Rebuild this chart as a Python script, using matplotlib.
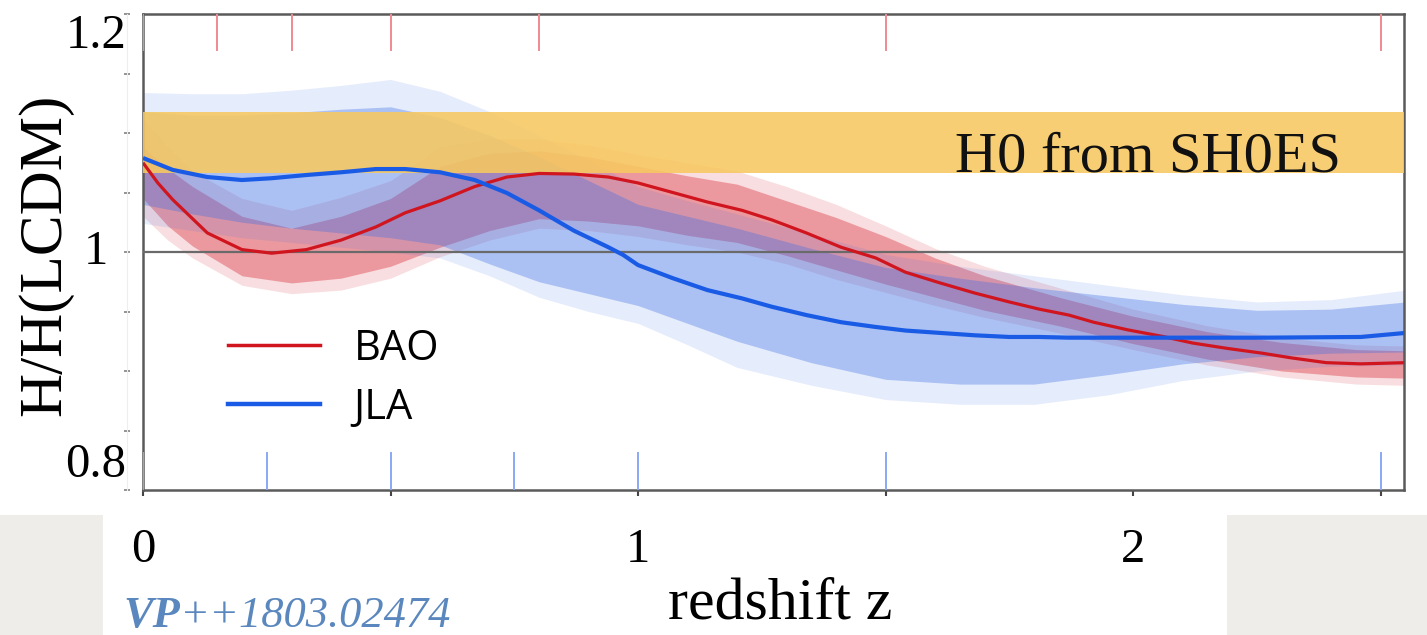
import matplotlib
matplotlib.use("Agg")
import matplotlib.pyplot as plt
from matplotlib.lines import Line2D
from matplotlib.patches import Rectangle

# ---------------- data ----------------
z_red = [0, 0.03, 0.06, 0.13, 0.2, 0.26, 0.33, 0.4, 0.47, 0.53, 0.6, 0.67, 0.735,
         0.8, 0.87, 0.94, 1.0, 1.07, 1.14, 1.21, 1.27, 1.34, 1.41, 1.48, 1.54, 1.61,
         1.68, 1.75, 1.81, 1.87, 1.92, 1.99, 2.06, 2.12, 2.19, 2.26, 2.32, 2.39, 2.46, 2.55]
h_red = [1.075, 1.058, 1.044, 1.016, 1.002, 0.999, 1.002, 1.010, 1.021, 1.033, 1.043,
         1.055, 1.063, 1.066, 1.0655, 1.063, 1.058, 1.050, 1.042, 1.035, 1.027, 1.016,
         1.004, 0.995, 0.983, 0.974, 0.9655, 0.958, 0.952, 0.947, 0.941, 0.9345, 0.929,
         0.9235, 0.919, 0.915, 0.911, 0.907, 0.906, 0.907]

z_blue = [0, 0.06, 0.13, 0.2, 0.26, 0.33, 0.4, 0.47, 0.53, 0.6, 0.67, 0.735, 0.8, 0.87,
          0.94, 0.97, 1.0, 1.07, 1.14, 1.21, 1.27, 1.34, 1.41, 1.48, 1.54, 1.61, 1.68,
          1.75, 1.81, 1.87, 2.06, 2.26, 2.46, 2.55]
h_blue = [1.079, 1.069, 1.063, 1.0605, 1.062, 1.0647, 1.067, 1.0697, 1.0697, 1.067,
          1.0605, 1.0496, 1.035, 1.018, 1.004, 0.9975, 0.989, 0.978, 0.968, 0.961, 0.954,
          0.947, 0.941, 0.937, 0.934, 0.932, 0.930, 0.9286, 0.9286, 0.928, 0.928, 0.928,
          0.9286, 0.932]

# sample envelopes (faint outer extent and dense inner region)
z_env_blue = [0, 0.1, 0.2, 0.3, 0.4, 0.5, 0.6, 0.7, 0.8, 0.9, 1.0, 1.1, 1.2, 1.35,
              1.5, 1.65, 1.8, 1.95, 2.1, 2.25, 2.4, 2.55]
blue_hi_outer = [1.134, 1.133, 1.133, 1.136, 1.140, 1.145, 1.135, 1.118, 1.098, 1.077,
                 1.055, 1.043, 1.032, 1.015, 0.998, 0.988, 0.980, 0.972, 0.964, 0.958,
                 0.960, 0.968]
blue_lo_outer = [1.024, 1.018, 1.012, 1.008, 1.004, 1.000, 0.995, 0.980, 0.962, 0.950,
                 0.940, 0.922, 0.903, 0.888, 0.876, 0.872, 0.872, 0.880, 0.892, 0.900,
                 0.904, 0.905]
blue_hi_inner = [1.118, 1.115, 1.115, 1.117, 1.120, 1.122, 1.113, 1.098, 1.080, 1.060,
                 1.040, 1.030, 1.020, 1.003, 0.987, 0.978, 0.970, 0.963, 0.956, 0.951,
                 0.952, 0.958]
blue_lo_inner = [1.040, 1.032, 1.025, 1.020, 1.016, 1.012, 1.006, 0.990, 0.975, 0.965,
                 0.955, 0.940, 0.925, 0.907, 0.893, 0.889, 0.889, 0.897, 0.906, 0.912,
                 0.915, 0.916]

z_env_red = [0, 0.05, 0.1, 0.2, 0.3, 0.4, 0.5, 0.6, 0.7, 0.8, 0.9, 1.0, 1.1, 1.2, 1.3,
             1.4, 1.5, 1.6, 1.7, 1.85, 2.0, 2.15, 2.3, 2.45, 2.55]
red_hi_outer = [1.112, 1.088, 1.068, 1.045, 1.035, 1.046, 1.060, 1.088, 1.095, 1.095,
                1.090, 1.082, 1.075, 1.068, 1.055, 1.040, 1.022, 1.003, 0.988, 0.970,
                0.952, 0.938, 0.928, 0.922, 0.921]
red_lo_outer = [1.030, 1.010, 0.995, 0.972, 0.965, 0.968, 0.978, 0.996, 1.010, 1.020,
                1.018, 1.013, 1.006, 1.000, 0.990, 0.977, 0.966, 0.955, 0.945, 0.932,
                0.918, 0.905, 0.895, 0.889, 0.888]
red_hi_inner = [1.088, 1.070, 1.055, 1.030, 1.020, 1.030, 1.045, 1.072, 1.083, 1.085,
                1.080, 1.072, 1.064, 1.057, 1.043, 1.029, 1.013, 0.995, 0.980, 0.962,
                0.946, 0.933, 0.924, 0.918, 0.917]
red_lo_inner = [1.045, 1.022, 1.005, 0.980, 0.974, 0.978, 0.988, 1.004, 1.018, 1.028,
                1.026, 1.022, 1.014, 1.008, 0.997, 0.985, 0.973, 0.962, 0.951, 0.938,
                0.923, 0.910, 0.900, 0.895, 0.894]

sh0es_band = [1.0667, 1.118]
rug_top_red = [0, 0.15, 0.3, 0.5, 0.8, 1.5, 2.5]
rug_bottom_blue = [0, 0.25, 0.5, 0.75, 1.0, 1.5, 2.5]

xtick_values = [0, 1, 2]
xtick_labels = ["0", "1", "2"]
xminor_values = [0.5, 1.5, 2.5]
ytick_labels = ["0.8", "1", "1.2"]
ytick_text_y = [0.821, 1.0, 1.1815]
yminor_values = [0.8, 0.85, 0.9, 0.95, 1.0, 1.05, 1.1, 1.15, 1.2]

series_names = ["BAO", "JLA"]

# ---------------- styling ----------------
SERIF = "Liberation Serif"
C_RED = "#d0151f"
C_BLUE = "#1a5be6"
C_RED_FILL = "#d9333f"
C_BLUE_FILL = "#3d6fe6"

fig = plt.figure(figsize=(14.27, 6.35), dpi=100)
fig.patch.set_facecolor("white")

# marble-like panels at the bottom corners
fig.add_artist(Rectangle((0, 0), 103 / 1427, 120 / 635, transform=fig.transFigure,
                         facecolor="#eeede9", edgecolor="none", zorder=0))
fig.add_artist(Rectangle((1227 / 1427, 0), 200 / 1427, 120 / 635, transform=fig.transFigure,
                         facecolor="#eeede9", edgecolor="none", zorder=0))

ax = fig.add_axes([143 / 1427, 1 - 490 / 635, (1404 - 143) / 1427, (490 - 14) / 635])
ax.set_xlim(0, 2.547)
ax.set_ylim(0.8, 1.2)

# sample bands
ax.fill_between(z_env_red, red_lo_outer, red_hi_outer, color=C_RED_FILL, alpha=0.16, lw=0, zorder=1)
ax.fill_between(z_env_red, red_lo_inner, red_hi_inner, color=C_RED_FILL, alpha=0.40, lw=0, zorder=1)
ax.fill_between(z_env_blue, blue_lo_outer, blue_hi_outer, color=C_BLUE_FILL, alpha=0.13, lw=0, zorder=2)
ax.fill_between(z_env_blue, blue_lo_inner, blue_hi_inner, color=C_BLUE_FILL, alpha=0.34, lw=0, zorder=2)

# SH0ES band
ax.axhspan(sh0es_band[0], sh0es_band[1], color="#f7c860", alpha=0.88, lw=0, zorder=3)

# reference line
ax.axhline(1.0, color="#6a6a6a", lw=1.6, zorder=4)

# main curves
ax.plot(z_red, h_red, color=C_RED, lw=2.3, zorder=5, solid_capstyle="butt")
ax.plot(z_blue, h_blue, color=C_BLUE, lw=3.0, zorder=6, solid_capstyle="butt")

# rug ticks
for zr in rug_top_red:
    ax.axvline(zr, ymin=0.924, ymax=1.0, color="#f08a92", lw=1.4, zorder=4)
for zb in rug_bottom_blue:
    ax.axvline(zb, ymin=0.0, ymax=0.078, color="#8aa8f5", lw=1.4, zorder=4)

# text label in band
ax.text(1.640, 1.068, "H0 from SH0ES", family=SERIF, fontsize=42, ha="left",
        va="baseline", color="#111111", zorder=7)

# spines
for sp in ax.spines.values():
    sp.set_color("#5a5a5a")
    sp.set_linewidth(1.8)

# x ticks
ax.set_xticks(xtick_values)
ax.set_xticklabels(xtick_labels, family=SERIF, fontsize=35)
ax.set_xticks(xminor_values, minor=True)
ax.tick_params(axis="x", which="both", direction="out", length=4, width=1.5,
               color="#444444", pad=23)

# y: no ticks on main spine; labels placed as text
ax.set_yticks([])
for yv, yl in zip(ytick_text_y, ytick_labels):
    ax.text(-0.0373, yv, yl, transform=ax.get_yaxis_transform(), family=SERIF,
            fontsize=35, ha="center", va="center")

# offset faint y-axis with small ticks
sec = ax.secondary_yaxis(-0.0127)
sec.set_yticks(yminor_values)
sec.set_yticklabels([])
sec.tick_params(axis="y", direction="inout", length=5, width=1.3, color="#8a8a8a")
sec.spines["left"].set_color("#eeeeee")
sec.spines["left"].set_linewidth(0.8)

# axis labels
ax.set_xlabel("redshift z", family=SERIF, fontsize=43)
ax.xaxis.set_label_coords(0.505, -0.183)
ax.set_ylabel("H/H(LCDM)", family=SERIF, fontsize=44)
ax.yaxis.set_label_coords(-0.0555, 0.494)

# legend
handles = [Line2D([], [], color=C_RED, lw=2.5), Line2D([], [], color=C_BLUE, lw=3.2)]
leg = ax.legend(handles, series_names, loc="upper left", bbox_to_anchor=(0.038, 0.42),
                frameon=False, prop={"family": "Open Sans", "size": 30},
                handlelength=2.2, handletextpad=0.8, labelspacing=0.42, borderpad=0.4)

# citation
t1 = fig.text(123 / 1427, 1 - 627 / 635, "VP", family=SERIF, fontsize=32,
              style="italic", weight="bold", color="#5a87be", ha="left", va="baseline")
ax.annotate("++1803.02474", xy=(1, 0), xycoords=t1, xytext=(0, 0),
            textcoords="offset points", family=SERIF, fontsize=32, style="italic",
            color="#5a87be", ha="left", va="bottom", annotation_clip=False)

fig.savefig("out.png", dpi=100, facecolor=fig.get_facecolor())
